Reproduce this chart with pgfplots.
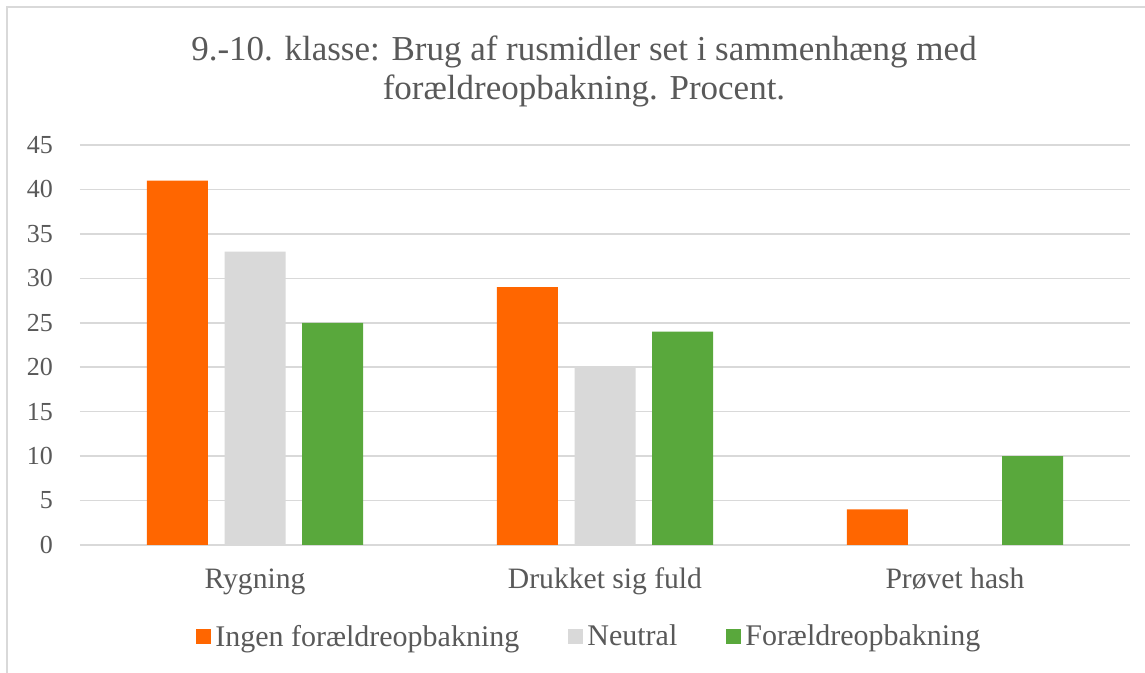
\documentclass[border=0pt]{standalone}
\usepackage{pgfplots}
\pgfplotsset{compat=1.18}
\usepackage{fontspec}
\setmainfont{Liberation Serif}
\definecolor{cOr}{HTML}{FF6600}
\definecolor{cGr}{HTML}{D9D9D9}
\definecolor{cGn}{HTML}{59A83C}
\definecolor{txt}{HTML}{595959}
\definecolor{gridc}{HTML}{D9D9D9}
\begin{document}
\begin{tikzpicture}
\useasboundingbox (0,0) rectangle (572.5pt,336.5pt);
\fill[white] (0,0) rectangle (572.5pt,336.5pt);
\draw[gridc, line width=1pt] (3.5pt,0) -- (3.5pt,333pt) -- (572.5pt,333pt);
\node[anchor=base, text=txt, font=\fontsize{17.5}{19}\selectfont, inner sep=0pt] at (292pt,306pt) {9.-10. klasse: Brug af rusmidler set i sammenhæng med};
\node[anchor=base, text=txt, font=\fontsize{17.5}{19}\selectfont, inner sep=0pt] at (292pt,286.5pt) {forældreopbakning. Procent.};
\begin{axis}[
  ybar=8.35pt, bar width=30.5pt,
  at={(40pt,64pt)}, anchor=south west,
  width=525pt, height=200pt, scale only axis,
  xmin=-0.5, xmax=2.5, ymin=0, ymax=45,
  xtick={0,1,2}, xticklabels={Rygning, Drukket sig fuld, Prøvet hash},
  ytick={0,5,...,45},
  ymajorgrids, grid style={gridc, line width=0.75pt},
  axis line style={draw=none}, major tick length=0pt,
  tick label style={text=txt},
  xticklabel style={font=\fontsize{14.8}{17}\selectfont, anchor=base, yshift=-22pt},
  yticklabel style={font=\fontsize{13}{15}\selectfont, anchor=east, xshift=-10pt},
  /pgf/number format/assume math mode=true,
  legend style={at={(0.486,-0.23)}, anchor=center, draw=none, fill=none, legend columns=3,
    font=\fontsize{15}{17}\selectfont, nodes={text=txt},
    /tikz/every even column/.append style={column sep=22.5pt}},
  every axis plot/.append style={legend image code/.code={\fill (0pt,-3.75pt) rectangle (7.5pt,3.75pt);}},
]
\addplot[fill=cOr, draw=none] coordinates {(0,41) (1,29) (2,4)};
\addplot[fill=cGr, draw=none] coordinates {(0,33) (1,20) (2,0)};
\addplot[fill=cGn, draw=none] coordinates {(0,25) (1,24) (2,10)};
\legend{Ingen forældreopbakning, Neutral, Forældreopbakning}
\end{axis}
\end{tikzpicture}
\end{document}
